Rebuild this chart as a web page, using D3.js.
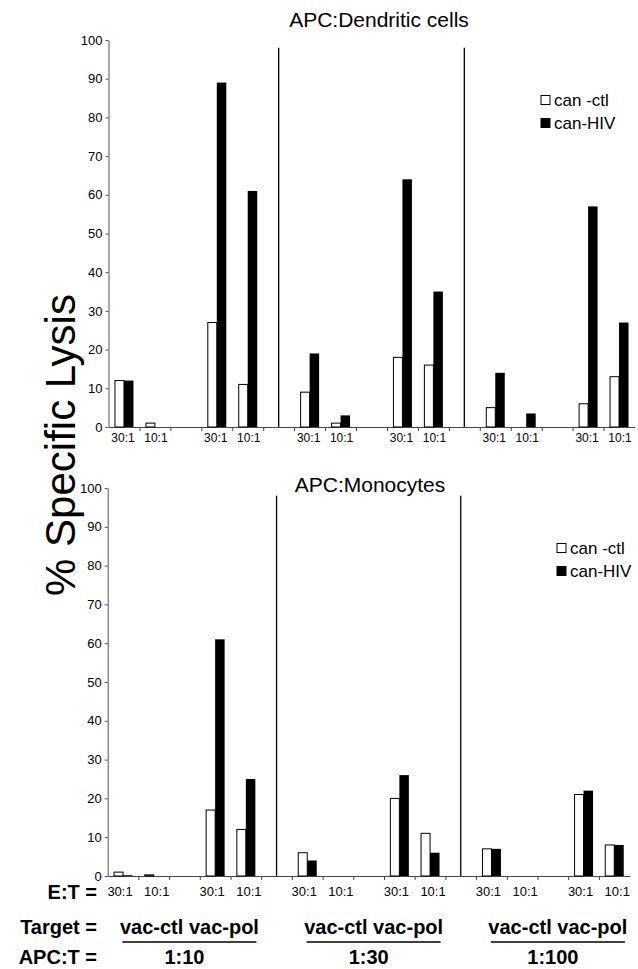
<!DOCTYPE html>
<html>
<head>
<meta charset="utf-8">
<script src="https://cdn.jsdelivr.net/npm/d3@7"></script>
<style>
  body { margin: 0; background: #fff; }
  svg { font-family: "Liberation Sans", Arial, sans-serif; }
</style>
</head>
<body>
<svg id="chart" width="638" height="969"></svg>
<script>
// categories
const etRatios = ["30:1", "10:1"];
const targets = ["vac-ctl", "vac-pol"];
const apcRatios = ["1:10", "1:30", "1:100"];
const series = ["can -ctl", "can-HIV"];
const yTicks = [0, 10, 20, 30, 40, 50, 60, 70, 80, 90, 100];

// % specific lysis, order: (vac-ctl 30:1, 10:1, vac-pol 30:1, 10:1) x APC:T 1:10, 1:30, 1:100
const dcCtl = [12, 1, 27, 11, 9, 1, 18, 16, 5, 0, 6, 13];
const dcHiv = [12, 0, 89, 61, 19, 3, 64, 35, 14, 3.5, 57, 27];
const monoCtl = [1, 0.3, 17, 12, 6, 0, 20, 11, 7, 0, 21, 8];
const monoHiv = [0.2, 0, 61, 25, 4, 0, 26, 6, 7, 0, 22, 8];

const svg = d3.select("#chart");
const nSlots = 17; // 6 groups of 2 + 5 gaps
const barW = 9.5;

function rows(ctl, hiv) {
  const out = [];
  for (let i = 0; i < ctl.length; i++) {
    const g = Math.floor(i / 2);
    const slot = 3 * g + (i % 2);
    out.push({ slot: slot, et: etRatios[i % 2], ctl: ctl[i], hiv: hiv[i] });
  }
  return out;
}

function panel(opt) {
  const y = d3.scaleLinear().domain([0, 100]).range([opt.y0, opt.y100]);
  const xs = d3.scaleBand().domain(d3.range(nSlots)).range([opt.x0, opt.x1]);
  const xEdge = d3.scaleLinear().domain([0, nSlots]).range([opt.x0, opt.x1]);
  const xIn = d3.scaleBand().domain(series).range([0, barW * 2]);
  const g = svg.append("g");

  // y axis
  const ya = g.append("g")
    .attr("transform", `translate(${opt.x0},0)`)
    .call(d3.axisLeft(y).tickValues(yTicks).tickSize(3).tickSizeOuter(0));
  ya.select(".domain").attr("stroke", "#555");
  ya.selectAll(".tick line").attr("stroke", "#555");
  ya.selectAll("text").attr("font-size", 13).attr("fill", "#000")
    .attr("font-family", "Liberation Sans, Arial, sans-serif");

  // x axis with ticks at slot edges
  const xa = g.append("g")
    .attr("transform", `translate(0,${opt.y0})`)
    .call(d3.axisBottom(xEdge).tickValues(d3.range(1, nSlots)).tickFormat("").tickSize(4).tickSizeOuter(0));
  xa.select(".domain").attr("stroke", "#444");
  xa.selectAll(".tick line").attr("stroke", "#444");

  // dividers between APC:T groups
  [5, 11].forEach((s) => {
    g.append("line")
      .attr("x1", xs(s) + xs.bandwidth() / 2).attr("x2", xs(s) + xs.bandwidth() / 2)
      .attr("y1", y(98)).attr("y2", y(0))
      .attr("stroke", "#000").attr("stroke-width", 1.3);
  });

  const data = rows(opt.ctl, opt.hiv);
  const slotG = g.selectAll(".slot").data(data).enter().append("g")
    .attr("transform", (d) => `translate(${xs(d.slot) + xs.bandwidth() / 2 - barW},0)`);
  slotG.append("rect")
    .attr("x", xIn(series[0]) + 0.5)
    .attr("y", (d) => y(d.ctl))
    .attr("width", xIn.bandwidth() - 0.5)
    .attr("height", (d) => y(0) - y(d.ctl))
    .attr("fill", "#fff").attr("stroke", "#000").attr("stroke-width", 1);
  slotG.append("rect")
    .attr("x", xIn(series[1]))
    .attr("y", (d) => y(d.hiv))
    .attr("width", xIn.bandwidth())
    .attr("height", (d) => y(0) - y(d.hiv))
    .attr("fill", "#000");

  // E:T labels
  slotG.append("text")
    .attr("x", (d) => barW + (d.et === "30:1" ? -opt.etShift : opt.etShift))
    .attr("y", opt.etY)
    .attr("text-anchor", "middle")
    .attr("font-size", opt.etSize)
    .text((d) => d.et);

  // title
  g.append("text")
    .attr("x", opt.titleX).attr("y", opt.titleY)
    .attr("text-anchor", "middle").attr("font-size", 21)
    .text(opt.title);

  // legend
  series.forEach((s, i) => {
    g.append("rect")
      .attr("x", opt.legX).attr("y", opt.legY + i * 23 - 4.5)
      .attr("width", 9).attr("height", 9)
      .attr("fill", i === 0 ? "#fff" : "#000")
      .attr("stroke", "#000").attr("stroke-width", 1);
    g.append("text")
      .attr("x", opt.legX + 13).attr("y", opt.legY + i * 23 + 6)
      .attr("font-size", 17)
      .text(s);
  });
  return xs;
}

panel({
  title: "APC:Dendritic cells", titleX: 379, titleY: 27,
  x0: 108.5, x1: 634.5, y0: 427, y100: 40,
  ctl: dcCtl, hiv: dcHiv,
  etY: 442, etSize: 12, etShift: 1,
  legX: 541, legY: 100
});

const xb = panel({
  title: "APC:Monocytes", titleX: 370, titleY: 492,
  x0: 107.7, x1: 629.6, y0: 876, y100: 488,
  ctl: monoCtl, hiv: monoHiv,
  etY: 896, etSize: 13, etShift: 3,
  legX: 557, legY: 548
});

// y title
svg.append("text")
  .attr("transform", "translate(75,445) rotate(-90)")
  .attr("text-anchor", "middle")
  .attr("font-size", 42)
  .text("% Specific Lysis");

// row labels
const rowLabels = [["E:T =", 899], ["Target =", 934], ["APC:T =", 964]];
rowLabels.forEach((r) => {
  svg.append("text")
    .attr("x", 97).attr("y", r[1])
    .attr("text-anchor", "end")
    .attr("font-size", 20).attr("font-weight", "bold")
    .text(r[0]);
});

// target / APC:T labels under each group
apcRatios.forEach((a, k) => {
  const cx = xb(6 * k + 2) + xb.bandwidth() / 2;
  svg.append("text")
    .attr("x", cx + 5).attr("y", 934)
    .attr("text-anchor", "middle")
    .attr("font-size", 20).attr("font-weight", "bold")
    .text(targets[0] + " " + targets[1]);
  svg.append("line")
    .attr("x1", cx + 5 - 67).attr("x2", cx + 5 + 67)
    .attr("y1", 942).attr("y2", 942)
    .attr("stroke", "#000").attr("stroke-width", 1.5);
  svg.append("text")
    .attr("x", cx).attr("y", 964)
    .attr("text-anchor", "middle")
    .attr("font-size", 20).attr("font-weight", "bold")
    .text(a);
});
</script>
</body>
</html>
